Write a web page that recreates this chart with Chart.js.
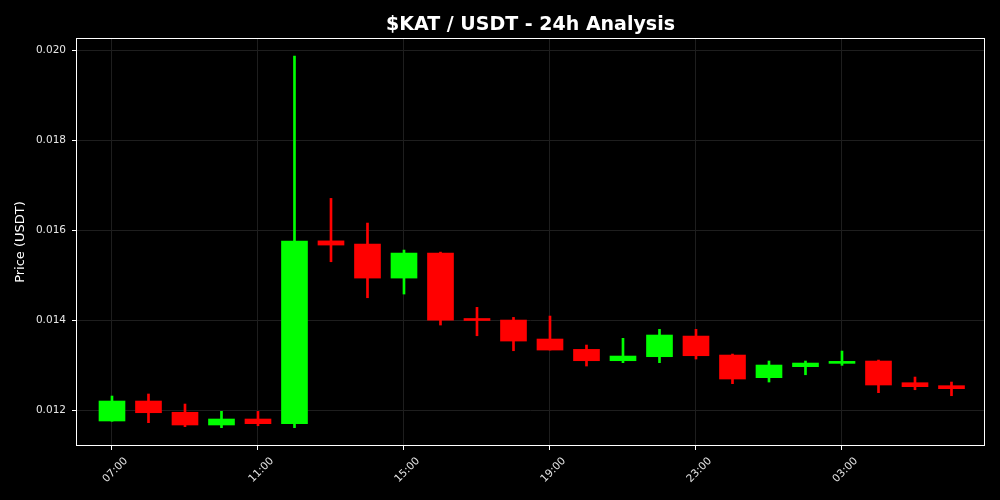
<!DOCTYPE html>
<html lang="en">
<head>
    <meta charset="UTF-8">
    <title>$KAT / USDT - 24h Analysis</title>
    <script src="https://cdn.jsdelivr.net/npm/chart.js"></script>
    <style>
        html, body { margin: 0; padding: 0; background: #000; }
        #wrap { width: 1000px; height: 500px; }
    </style>
</head>
<body>
<div id="wrap"><canvas id="myChart"></canvas></div>

<script>
    // hourly candles, 07:00 -> 06:00
    var hourLabels = ['07:00', '08:00', '09:00', '10:00', '11:00', '12:00', '13:00', '14:00',
        '15:00', '16:00', '17:00', '18:00', '19:00', '20:00', '21:00', '22:00',
        '23:00', '00:00', '01:00', '02:00', '03:00', '04:00', '05:00', '06:00'];
    var opens = [0.011756, 0.01220, 0.011950, 0.011667, 0.011800, 0.011696, 0.015760, 0.015689,
        0.014933, 0.015489, 0.014000, 0.014000, 0.013578, 0.013348, 0.013096, 0.013185,
        0.013644, 0.013222, 0.012719, 0.012963, 0.013037, 0.013089, 0.012607, 0.012541];
    var highs = [0.012311, 0.012356, 0.012133, 0.011971, 0.011970, 0.019867, 0.016704, 0.016156,
        0.015556, 0.015510, 0.014282, 0.014059, 0.014089, 0.013444, 0.013593, 0.013793,
        0.013793, 0.013244, 0.013089, 0.013089, 0.013311, 0.013111, 0.012733, 0.012622];
    var lows = [0.011750, 0.011718, 0.011630, 0.011607, 0.011650, 0.011607, 0.015296, 0.014496,
        0.014578, 0.013889, 0.013651, 0.013318, 0.013333, 0.012978, 0.013052, 0.013052,
        0.013133, 0.012585, 0.012622, 0.012784, 0.012993, 0.012385, 0.012451, 0.012318];
    var closes = [0.012200, 0.011940, 0.011667, 0.011800, 0.011696, 0.015756, 0.015667, 0.014933,
        0.015489, 0.014000, 0.013990, 0.013533, 0.013333, 0.013096, 0.013200, 0.013667,
        0.013207, 0.012689, 0.013000, 0.013044, 0.013081, 0.012556, 0.012519, 0.012474];

    var UP = '#00ff00';
    var DOWN = '#ff0000';

    var bodies = [], wicks = [], colors = [];
    for (var i = 0; i < hourLabels.length; i++) {
        bodies.push({ x: i, y: [opens[i], closes[i]] });
        wicks.push({ x: i, y: [lows[i], highs[i]] });
        colors.push(closes[i] >= opens[i] ? UP : DOWN);
    }

    // matplotlib style frame on all four sides
    var frame = {
        id: 'frame',
        afterDraw: function(chart) {
            var a = chart.chartArea, c = chart.ctx;
            c.save();
            c.strokeStyle = 'white';
            c.lineWidth = 1;
            c.strokeRect(Math.round(a.left) + 0.5, Math.round(a.top) + 0.5,
                Math.round(a.right - a.left) - 1, Math.round(a.bottom - a.top) - 1);
            c.restore();
        }
    };

    Chart.defaults.font.family = '"DejaVu Sans", sans-serif';
    Chart.defaults.color = '#e6e6e6';

    var ctx = document.getElementById('myChart').getContext('2d');
    var chart = new Chart(ctx, {
        type: 'bar',
        data: {
            datasets: [{
                label: 'body',
                data: bodies,
                backgroundColor: colors,
                barThickness: 26,
                minBarLength: 2,
                grouped: false
            }, {
                label: 'wick',
                data: wicks,
                backgroundColor: colors,
                barThickness: 2,
                grouped: false
            }]
        },
        options: {
            responsive: true,
            maintainAspectRatio: false,
            animation: false,
            layout: {
                padding: { left: 0, right: 15, top: 0, bottom: 0 }
            },
            scales: {
                x: {
                    type: 'linear',
                    min: -0.986,
                    max: 23.918,
                    offset: false,
                    afterFit: function(s) { s.height = 54; },
                    border: { display: false },
                    grid: { offset: false, color: '#1e1e1e', tickColor: 'white', tickLength: 4 },
                    ticks: {
                        stepSize: 4,
                        includeBounds: false,
                        autoSkip: false,
                        maxRotation: 45,
                        minRotation: 45,
                        labelOffset: 14,
                        padding: 5,
                        font: { size: 10.5 },
                        callback: function(v) { return hourLabels[v]; }
                    }
                },
                y: {
                    min: 0.01120,
                    max: 0.02027,
                    afterFit: function(s) { s.width = 76; },
                    border: { display: false },
                    grid: { color: '#1e1e1e', tickColor: 'white', tickLength: 4 },
                    ticks: {
                        stepSize: 0.002,
                        includeBounds: false,
                        padding: 6,
                        font: { size: 10.5 },
                        callback: function(v) { return v.toFixed(3); }
                    },
                    title: {
                        display: true,
                        text: 'Price (USDT)',
                        color: '#ffffff',
                        font: { size: 13 },
                        padding: { top: 13, bottom: 0 }
                    }
                }
            },
            plugins: {
                legend: { display: false },
                tooltip: { enabled: false },
                title: {
                    display: true,
                    text: '$KAT / USDT - 24h Analysis',
                    color: '#ffffff',
                    fullSize: false,
                    font: { size: 19, weight: 'bold' },
                    padding: { top: 14, bottom: 1.2 }
                }
            }
        },
        plugins: [frame]
    });
</script>
</body>
</html>
